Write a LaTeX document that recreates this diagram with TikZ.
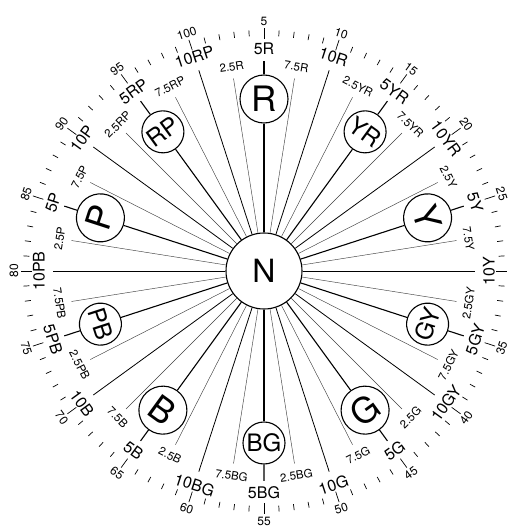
\documentclass[tikz,border=0pt]{standalone}
\usepackage{fontspec}
\setmainfont{TeX Gyre Heros}
\usetikzlibrary{calc}

\begin{document}
\begin{tikzpicture}[x=1pt, y=1pt,
    neutral/.style={circle, draw, line width=1.1pt, minimum size=76pt, inner sep=0pt,
                    font=\fontsize{32}{32}\selectfont},
    huecirc/.style={circle, draw, line width=1.1pt, inner sep=0pt, fill=white},
    spoke/.style={line width=1.1pt},
    tenspoke/.style={line width=0.8pt},
    finespoke/.style={line width=0.45pt, black!75},
    mainlbl/.style={inner sep=0pt, font=\fontsize{16}{16}\selectfont},
    sublbl/.style={inner sep=0pt, font=\fontsize{11.5}{11.5}\selectfont},
    numlbl/.style={inner sep=0pt, font=\fontsize{12}{12}\selectfont},
    scaletick/.style={line width=0.7pt}
  ]
  \useasboundingbox (-264,-256) rectangle (250,271);

  % Neutral axis
  \node[neutral] (N) at (0,0) {N};

  % Hue spokes, hue circles and labels
  \foreach \h/\d/\fs [count=\i from 0] in {R/48/35, YR/42/24, Y/48/35, GY/42/24, G/48/35,
                                          BG/42/24, B/48/35, PB/42/24, P/48/35, RP/42/24}{
    \foreach \v [count=\j] in {2.5,5,7.5,10}{
      \pgfmathsetmacro\p{10*\i+2.5*\j}
      \pgfmathsetmacro\a{108-3.6*\p}
      \pgfmathsetmacro\a{\a<=-179.9 ? \a+360 : \a}
      \pgfmathsetmacro\rot{\a>0.1 ? \a-90 : \a+90}
      \ifnum\j=2
        \node[huecirc, minimum size=\d pt, font=\fontsize{\fs}{\fs}\selectfont, rotate=\rot]
          (h\h) at (\a:172) {\h};
        \draw[spoke] (N) -- (h\h);
        \coordinate (t\h) at (\a:210);
        \draw[spoke] (h\h) -- (t\h);
        \node[mainlbl, rotate=\rot] (l\h\j) at (\a:222) {5\h};
      \else\ifnum\j=4
        \coordinate (e\h\j) at (\a:211);
        \draw[tenspoke] (N) -- (e\h\j);
        \node[mainlbl, rotate=\rot] (l\h\j) at (\a:225) {10\h};
      \else
        \coordinate (e\h\j) at (\a:195);
        \draw[finespoke] (N) -- (e\h\j);
        \node[sublbl, rotate=\rot] (l\h\j) at (\a:207) {\v\h};
      \fi\fi
    }
  }

  % Outer scale of 100 steps
  \foreach \n in {1,...,100}{
    \pgfmathsetmacro\ta{108-3.6*\n}
    \pgfmathtruncatemacro\m{mod(\n,5)}
    \ifnum\m=0
      \draw[scaletick] (\ta:232) -- (\ta:243);
    \else
      \draw[scaletick] (\ta:235) -- (\ta:241);
    \fi
  }
  \foreach \n in {5,10,...,100}{
    \ifnum\n=30 \else
      \pgfmathsetmacro\na{108-3.6*\n}
      \pgfmathsetmacro\na{\na<=-179.9 ? \na+360 : \na}
      \pgfmathsetmacro\nrot{\na>0.1 ? \na-90 : \na+90}
      \node[numlbl, rotate=\nrot] (num\n) at (\na:250) {\n};
    \fi
  }
\end{tikzpicture}
\end{document}
